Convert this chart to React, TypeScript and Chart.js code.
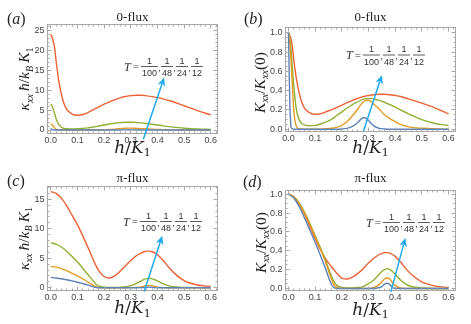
import React, { useEffect, useRef } from 'react';
import { Chart, registerables } from 'chart.js';

Chart.register(...registerables);

// ---------- data ----------
const H_ZERO = [0, 0.005, 0.01, 0.015, 0.02, 0.03, 0.04, 0.05, 0.06, 0.08, 0.1, 0.12, 0.14, 0.16, 0.18, 0.2, 0.22, 0.24, 0.26, 0.27, 0.28, 0.29, 0.3, 0.31, 0.32, 0.34, 0.36, 0.38, 0.4, 0.42, 0.45, 0.5, 0.55, 0.6];
const H_PI = [0, 0.02, 0.04, 0.06, 0.08, 0.1, 0.12, 0.14, 0.16, 0.17, 0.18, 0.2, 0.22, 0.24, 0.26, 0.28, 0.3, 0.32, 0.34, 0.35, 0.36, 0.37, 0.38, 0.39, 0.4, 0.42, 0.44, 0.46, 0.5, 0.55, 0.6];

// (a) 0-flux, kappa
const A_BLUE = [0.45, 0.15, 0.02, 0.005, 0, 0, 0, 0, 0, 0, 0, 0, 0, 0, 0, 0, 0.002, 0.005, 0.015, 0.025, 0.04, 0.05, 0.045, 0.03, 0.018, 0.005, 0.001, 0, 0, 0, 0, 0, 0, 0];
const A_ORANGE = [1.6, 1.35, 0.95, 0.5, 0.17, 0.04, 0.01, 0, 0, 0, 0, 0, 0.01, 0.015, 0.03, 0.065, 0.13, 0.22, 0.34, 0.4, 0.45, 0.48, 0.48, 0.46, 0.42, 0.35, 0.26, 0.18, 0.13, 0.08, 0.04, 0.015, 0.005, 0];
const A_GREEN = [6.6, 6.1, 5.2, 4.0, 2.9, 1.4, 0.7, 0.4, 0.3, 0.25, 0.3, 0.4, 0.55, 0.75, 1.0, 1.25, 1.5, 1.7, 1.85, 1.9, 1.95, 1.97, 1.97, 1.95, 1.9, 1.8, 1.65, 1.45, 1.25, 1.05, 0.8, 0.45, 0.25, 0.15];
const A_RED = [24.1, 23.4, 22.2, 20.5, 17.5, 12.5, 9.0, 6.6, 5.2, 4.0, 3.7, 3.9, 4.4, 5.1, 5.8, 6.5, 7.1, 7.6, 8.1, 8.3, 8.45, 8.55, 8.65, 8.7, 8.75, 8.75, 8.6, 8.4, 8.15, 7.85, 7.3, 6.1, 4.9, 3.8];

// (b) 0-flux, normalised
const B_BLUE = [1.0, 0.3, 0.02, 0.005, 0, 0, 0, 0, 0, 0, 0, 0, 0, 0, 0, 0.003, 0.01, 0.03, 0.07, 0.1, 0.12, 0.115, 0.09, 0.06, 0.035, 0.01, 0.003, 0, 0, 0, 0, 0, 0, 0];
const B_ORANGE = [1.0, 0.9, 0.7, 0.45, 0.2, 0.03, 0.005, 0, 0, 0, 0, 0, 0.005, 0.01, 0.02, 0.04, 0.08, 0.14, 0.21, 0.25, 0.28, 0.3, 0.3, 0.285, 0.26, 0.21, 0.15, 0.11, 0.08, 0.05, 0.025, 0.01, 0.003, 0.001];
const B_GREEN = [1.0, 0.95, 0.82, 0.62, 0.45, 0.2, 0.1, 0.06, 0.045, 0.035, 0.04, 0.055, 0.075, 0.1, 0.14, 0.18, 0.22, 0.255, 0.285, 0.3, 0.31, 0.318, 0.32, 0.318, 0.312, 0.3, 0.28, 0.255, 0.23, 0.2, 0.16, 0.1, 0.06, 0.04];
const B_RED = [1.0, 0.97, 0.93, 0.85, 0.72, 0.52, 0.38, 0.28, 0.22, 0.17, 0.155, 0.16, 0.18, 0.2, 0.225, 0.25, 0.275, 0.3, 0.32, 0.33, 0.338, 0.345, 0.35, 0.355, 0.358, 0.362, 0.362, 0.358, 0.35, 0.34, 0.315, 0.27, 0.22, 0.16];

// (c) pi-flux, kappa
const C_BLUE = [1.75, 1.65, 1.52, 1.35, 1.15, 0.93, 0.7, 0.45, 0.15, 0.04, 0, 0, 0, 0, 0, 0, 0, 0, 0.01, 0.03, 0.06, 0.09, 0.06, 0.02, 0, 0, 0, 0, 0, 0, 0];
const C_ORANGE = [3.6, 3.5, 3.25, 2.9, 2.45, 2.0, 1.5, 0.95, 0.4, 0.15, 0.04, 0, 0, 0, 0, 0, 0.005, 0.03, 0.15, 0.25, 0.35, 0.4, 0.35, 0.22, 0.1, 0.02, 0, 0, 0, 0, 0];
const C_GREEN = [7.6, 7.4, 6.9, 6.2, 5.3, 4.4, 3.3, 2.2, 1.1, 0.6, 0.3, 0.08, 0.04, 0.04, 0.07, 0.15, 0.35, 0.7, 1.15, 1.4, 1.55, 1.6, 1.5, 1.35, 1.15, 0.7, 0.35, 0.15, 0.04, 0.01, 0];
const C_RED = [16.3, 16.0, 15.2, 13.9, 12.3, 10.7, 8.8, 6.8, 4.7, 3.7, 2.9, 1.9, 1.65, 2.0, 2.8, 3.7, 4.6, 5.4, 5.9, 6.1, 6.2, 6.2, 6.1, 5.9, 5.6, 4.7, 3.6, 2.6, 1.2, 0.45, 0.2];

// (d) pi-flux, normalised
const D_BLUE = [1.0, 0.96, 0.87, 0.75, 0.62, 0.49, 0.35, 0.2, 0.05, 0.01, 0, 0, 0, 0, 0, 0, 0, 0, 0.01, 0.02, 0.045, 0.055, 0.04, 0.01, 0, 0, 0, 0, 0, 0, 0];
const D_ORANGE = [1.0, 0.97, 0.9, 0.8, 0.68, 0.55, 0.42, 0.27, 0.11, 0.04, 0.01, 0, 0, 0, 0, 0, 0, 0.01, 0.04, 0.07, 0.1, 0.11, 0.1, 0.06, 0.03, 0.005, 0, 0, 0, 0, 0];
const D_GREEN = [1.0, 0.975, 0.91, 0.81, 0.69, 0.56, 0.43, 0.29, 0.14, 0.075, 0.035, 0.01, 0.005, 0.005, 0.01, 0.02, 0.05, 0.09, 0.15, 0.18, 0.2, 0.21, 0.2, 0.18, 0.15, 0.09, 0.045, 0.02, 0.005, 0, 0];
const D_RED = [1.0, 0.97, 0.9, 0.79, 0.66, 0.53, 0.41, 0.31, 0.235, 0.2, 0.165, 0.11, 0.1, 0.12, 0.16, 0.21, 0.27, 0.32, 0.36, 0.37, 0.38, 0.38, 0.375, 0.36, 0.34, 0.28, 0.21, 0.15, 0.07, 0.025, 0.01];

// ticks / labels
const X_TICKS = [0, 0.1, 0.2, 0.3, 0.4, 0.5, 0.6];
const Y_TICKS_A = [0, 5, 10, 15, 20, 25];
const Y_TICKS_C = [0, 5, 10, 15];
const Y_TICKS_NORM = [0, 0.2, 0.4, 0.6, 0.8, 1.0];
const T_DENOMS = ['100', '48', '24', '12'];
const TITLES = ['0-flux', '0-flux', 'π-flux', 'π-flux'];
const TAGS = ['a', 'b', 'c', 'd'];

// ---------- styles ----------
const COLORS = ['#5E81B5', '#E19C24', '#8FB032', '#EB6235'];
const ARROW_COLOR = '#1FA9EF';
const FRAME_COLOR = '#a8a8a8';
const TEXT_COLOR = '#222';
const TICK_COLOR = '#444';
const SERIF = '"Liberation Serif", serif';
const DSERIF = '"DejaVu Serif", serif';
const SANS = '"Liberation Sans", sans-serif';

type Seg = { t: string; it?: boolean; sub?: boolean };

const KAPPA_TITLE: Seg[] = [
  { t: 'κ', it: true }, { t: 'xx', it: true, sub: true }, { t: '\u2009' }, { t: 'ħ', it: true }, { t: '/' },
  { t: 'k', it: true }, { t: 'B', it: true, sub: true }, { t: '\u2009' }, { t: 'K', it: true }, { t: '1', sub: true },
];
const NORM_TITLE: Seg[] = [
  { t: 'K', it: true }, { t: 'xx', it: true, sub: true }, { t: '/' }, { t: 'K', it: true }, { t: 'xx', it: true, sub: true }, { t: '(0)' },
];
const X_TITLE: Seg[] = [{ t: 'h', it: true }, { t: '/' }, { t: 'K', it: true }, { t: '1', sub: true }];

const segFont = (s: Seg, size: number, fam: string) =>
  `${s.it ? 'italic ' : ''}${s.sub ? size * 0.65 : size}px ${fam}`;

function richWidth(ctx: CanvasRenderingContext2D, segs: Seg[], size: number, fam: string) {
  let w = 0;
  for (const s of segs) {
    ctx.font = segFont(s, size, fam);
    w += ctx.measureText(s.t).width;
  }
  return w;
}

function drawRich(ctx: CanvasRenderingContext2D, segs: Seg[], size: number, fam: string, x: number, y: number) {
  let cx = x;
  ctx.textAlign = 'left';
  ctx.textBaseline = 'alphabetic';
  for (const s of segs) {
    ctx.font = segFont(s, size, fam);
    ctx.fillText(s.t, cx, s.sub ? y + size * 0.22 : y);
    cx += ctx.measureText(s.t).width;
  }
}

interface PanelCfg {
  idx: number;
  left: number; top: number; width: number; height: number;
  area: { l: number; r: number; t: number; b: number };
  xr: [number, number]; yr: [number, number];
  yTicks: number[]; yDec: number; yMinor: number; yMajor: number;
  hs: number[]; series: number[][];
  yTitle: Seg[]; yTitleSize: number; yTitleX: number; yTitleDy: number;
  xTitleBase: number; titleBase: number; tagX: number; tagBase: number;
  tLabel: [number, number];
  arrow: [[number, number], [number, number]];
}

const PANELS: PanelCfg[] = [
  {
    idx: 0, left: 0, top: 0, width: 235, height: 162,
    area: { l: 47.5, r: 217.5, t: 24.5, b: 133.5 }, xr: [-0.012, 0.625], yr: [-0.88, 26.56],
    yTicks: Y_TICKS_A, yDec: 0, yMinor: 1, yMajor: 5, hs: H_ZERO, series: [A_BLUE, A_ORANGE, A_GREEN, A_RED],
    yTitle: KAPPA_TITLE, yTitleSize: 15.5, yTitleX: 26, yTitleDy: 0, xTitleBase: 152.5, titleBase: 20.5, tagX: 7, tagBase: 23.5,
    tLabel: [124, 66.5], arrow: [[0.347, -2.3], [0.425, 13.2]],
  },
  {
    idx: 1, left: 235, top: 0, width: 236, height: 162,
    area: { l: 50.5, r: 220.5, t: 27.5, b: 131.5 }, xr: [-0.011, 0.626], yr: [-0.023, 1.054],
    yTicks: Y_TICKS_NORM, yDec: 1, yMinor: 0.05, yMajor: 0.2, hs: H_ZERO, series: [B_BLUE, B_ORANGE, B_GREEN, B_RED],
    yTitle: NORM_TITLE, yTitleSize: 15.5, yTitleX: 26.5, yTitleDy: 3, xTitleBase: 152.5, titleBase: 20.5, tagX: 9, tagBase: 23.5,
    tLabel: [111, 55], arrow: [[0.281, -0.02], [0.35, 0.56]],
  },
  {
    idx: 2, left: 0, top: 162, width: 235, height: 162,
    area: { l: 47.5, r: 217.5, t: 24.5, b: 128.5 }, xr: [-0.012, 0.625], yr: [-0.475, 17.17],
    yTicks: Y_TICKS_C, yDec: 0, yMinor: 1, yMajor: 5, hs: H_PI, series: [C_BLUE, C_ORANGE, C_GREEN, C_RED],
    yTitle: KAPPA_TITLE, yTitleSize: 15.5, yTitleX: 25.5, yTitleDy: 0, xTitleBase: 151, titleBase: 20, tagX: 7, tagBase: 24,
    tLabel: [123, 59.5], arrow: [[0.35, -0.7], [0.418, 8.8]],
  },
  {
    idx: 3, left: 235, top: 162, width: 236, height: 162,
    area: { l: 50.5, r: 220.5, t: 28.5, b: 128.5 }, xr: [-0.011, 0.626], yr: [-0.022, 1.039],
    yTicks: Y_TICKS_NORM, yDec: 1, yMinor: 0.05, yMajor: 0.2, hs: H_PI, series: [D_BLUE, D_ORANGE, D_GREEN, D_RED],
    yTitle: NORM_TITLE, yTitleSize: 15.5, yTitleX: 27.5, yTitleDy: 2, xTitleBase: 152.5, titleBase: 20, tagX: 8, tagBase: 24.5,
    tLabel: [131, 60.5], arrow: [[0.384, -0.037], [0.438, 0.535]],
  },
];

const snap = (v: number) => Math.round(v - 0.5) + 0.5;

function drawFrame(chart: any, cfg: PanelCfg) {
  const ctx: CanvasRenderingContext2D = chart.ctx;
  const { left, right, top, bottom } = chart.chartArea;
  const xs = chart.scales.x;
  const ys = chart.scales.y;
  ctx.save();
  ctx.strokeStyle = FRAME_COLOR;
  ctx.lineWidth = 1;
  ctx.strokeRect(left, top, right - left, bottom - top);
  ctx.beginPath();
  for (let i = 0; i <= 31; i++) {
    const v = i * 0.02;
    const px = xs.getPixelForValue(v);
    if (px < left || px > right) continue;
    const len = i % 5 === 0 ? 4 : 2;
    const sx = snap(px);
    ctx.moveTo(sx, bottom); ctx.lineTo(sx, bottom - len);
    ctx.moveTo(sx, top); ctx.lineTo(sx, top + len);
  }
  const nMinor = Math.floor(cfg.yr[1] / cfg.yMinor + 1e-6);
  const ratio = Math.round(cfg.yMajor / cfg.yMinor);
  for (let i = 0; i <= nMinor; i++) {
    const v = i * cfg.yMinor;
    const py = ys.getPixelForValue(v);
    if (py < top || py > bottom) continue;
    const len = i % ratio === 0 ? 4 : 2;
    const sy = snap(py);
    ctx.moveTo(left, sy); ctx.lineTo(left + len, sy);
    ctx.moveTo(right, sy); ctx.lineTo(right - len, sy);
  }
  ctx.stroke();
  ctx.restore();
}

function drawArrow(chart: any, cfg: PanelCfg) {
  const ctx: CanvasRenderingContext2D = chart.ctx;
  const xs = chart.scales.x;
  const ys = chart.scales.y;
  const [[x0, y0], [x1, y1]] = cfg.arrow;
  const ax = xs.getPixelForValue(x0), ay = ys.getPixelForValue(y0);
  const bx = xs.getPixelForValue(x1), by = ys.getPixelForValue(y1);
  const ang = Math.atan2(by - ay, bx - ax);
  const hl = 8.5, hw = 3.8;
  ctx.save();
  ctx.strokeStyle = ARROW_COLOR;
  ctx.fillStyle = ARROW_COLOR;
  ctx.lineWidth = 1.5;
  ctx.beginPath();
  ctx.moveTo(ax, ay);
  ctx.lineTo(bx - Math.cos(ang) * hl * 0.8, by - Math.sin(ang) * hl * 0.8);
  ctx.stroke();
  ctx.beginPath();
  ctx.moveTo(bx, by);
  ctx.lineTo(bx - Math.cos(ang) * hl - Math.sin(ang) * hw, by - Math.sin(ang) * hl + Math.cos(ang) * hw);
  ctx.lineTo(bx - Math.cos(ang) * hl * 0.75, by - Math.sin(ang) * hl * 0.75);
  ctx.lineTo(bx - Math.cos(ang) * hl + Math.sin(ang) * hw, by - Math.sin(ang) * hl - Math.cos(ang) * hw);
  ctx.closePath();
  ctx.fill();
  ctx.restore();
}

function drawTLabel(ctx: CanvasRenderingContext2D, x0: number, bar: number) {
  ctx.save();
  ctx.fillStyle = '#333';
  ctx.strokeStyle = '#333';
  ctx.textBaseline = 'alphabetic';
  ctx.textAlign = 'left';
  let x = x0;
  ctx.font = `italic 12px ${SERIF}`;
  ctx.fillText('T', x, bar + 4);
  x += ctx.measureText('T').width + 2;
  ctx.font = `11px ${SERIF}`;
  ctx.fillText('=', x, bar + 3.5);
  x += ctx.measureText('=').width + 2;
  ctx.font = `9px ${SANS}`;
  T_DENOMS.forEach((den, i) => {
    const dw = ctx.measureText(den).width;
    const w = dw + 2;
    ctx.lineWidth = 0.8;
    ctx.beginPath();
    ctx.moveTo(x, bar); ctx.lineTo(x + w, bar);
    ctx.stroke();
    ctx.textAlign = 'center';
    ctx.fillText('1', x + w / 2, bar - 3);
    ctx.fillText(den, x + w / 2, bar + 9.5);
    ctx.textAlign = 'left';
    x += w;
    if (i < T_DENOMS.length - 1) {
      ctx.fillText(',', x + 0.3, bar + 4);
      x += 3;
    }
  });
  ctx.restore();
}

function drawTexts(chart: any, cfg: PanelCfg) {
  const ctx: CanvasRenderingContext2D = chart.ctx;
  const { left, right, top, bottom } = chart.chartArea;
  const cx = (left + right) / 2;
  ctx.save();
  ctx.fillStyle = TEXT_COLOR;
  // title
  ctx.font = `13px ${SERIF}`;
  ctx.textAlign = 'center';
  ctx.textBaseline = 'alphabetic';
  ctx.fillText(TITLES[cfg.idx], cx, cfg.titleBase);
  // tag (a)
  drawRich(ctx, [{ t: '(' }, { t: TAGS[cfg.idx], it: true }, { t: ')' }], 16, SERIF, cfg.tagX, cfg.tagBase);
  // x title
  const xw = richWidth(ctx, X_TITLE, 17, DSERIF);
  drawRich(ctx, X_TITLE, 17, DSERIF, cx - xw / 2, cfg.xTitleBase);
  // y title
  const yw = richWidth(ctx, cfg.yTitle, cfg.yTitleSize, SERIF);
  ctx.translate(cfg.yTitleX, (top + bottom) / 2 + cfg.yTitleDy);
  ctx.rotate(-Math.PI / 2);
  drawRich(ctx, cfg.yTitle, cfg.yTitleSize, SERIF, -yw / 2, cfg.yTitleSize * 0.22);
  ctx.restore();
  drawTLabel(ctx, cfg.tLabel[0], cfg.tLabel[1]);
}

function Panel({ cfg }: { cfg: PanelCfg }) {
  const ref = useRef<HTMLCanvasElement>(null);
  useEffect(() => {
    const canvas = ref.current;
    if (!canvas) return;
    const { area } = cfg;
    const deco = {
      id: 'deco' + cfg.idx,
      afterDatasetsDraw(chart: any) {
        drawFrame(chart, cfg);
        drawArrow(chart, cfg);
        drawTexts(chart, cfg);
      },
    };
    const chart = new Chart(canvas, {
      type: 'line',
      data: {
        datasets: cfg.series.map((vals, i) => ({
          data: cfg.hs.map((h, j) => ({ x: h, y: vals[j] })),
          borderColor: COLORS[i],
          backgroundColor: COLORS[i],
          borderWidth: 1.4,
          pointRadius: 0,
          fill: false,
          cubicInterpolationMode: 'monotone' as const,
        })),
      },
      options: {
        responsive: false,
        animation: false,
        events: [],
        layout: { padding: { top: area.t, right: cfg.width - area.r, bottom: 0, left: 0 } },
        plugins: { legend: { display: false }, title: { display: false }, tooltip: { enabled: false } },
        scales: {
          x: {
            type: 'linear',
            min: cfg.xr[0],
            max: cfg.xr[1],
            grid: { display: false, drawTicks: false },
            border: { display: false },
            afterFit: (s: any) => { s.height = cfg.height - area.b; },
            afterBuildTicks: (s: any) => { s.ticks = X_TICKS.map((v) => ({ value: v })); },
            ticks: {
              padding: 2,
              autoSkip: false,
              maxRotation: 0,
              font: { family: 'Liberation Sans', size: 9 },
              color: TICK_COLOR,
              callback: (v: any) => Number(v).toFixed(1),
            },
          },
          y: {
            type: 'linear',
            min: cfg.yr[0],
            max: cfg.yr[1],
            grid: { display: false, drawTicks: false },
            border: { display: false },
            afterFit: (s: any) => { s.width = area.l; },
            afterBuildTicks: (s: any) => { s.ticks = cfg.yTicks.map((v) => ({ value: v })); },
            ticks: {
              padding: 3,
              autoSkip: false,
              font: { family: 'Liberation Sans', size: 9 },
              color: TICK_COLOR,
              callback: (v: any) => Number(v).toFixed(cfg.yDec),
            },
          },
        },
      },
      plugins: [deco],
    } as any);
    return () => chart.destroy();
  }, [cfg]);
  return (
    <canvas
      ref={ref}
      width={cfg.width}
      height={cfg.height}
      style={{ position: 'absolute', left: cfg.left, top: cfg.top, width: cfg.width, height: cfg.height }}
    />
  );
}

export default function App() {
  return (
    <div style={{ position: 'fixed', left: 0, top: 0, width: 471, height: 324, background: '#fff', overflow: 'hidden' }}>
      {PANELS.map((p) => (
        <Panel key={p.idx} cfg={p} />
      ))}
    </div>
  );
}
